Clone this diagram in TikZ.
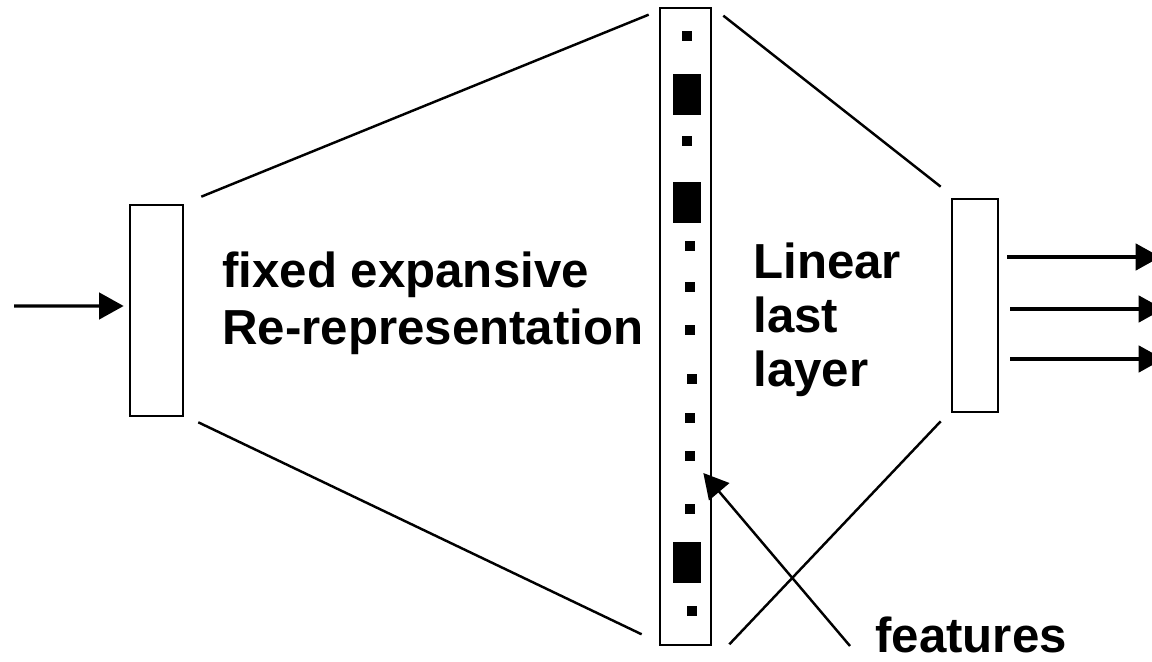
\documentclass[tikz,border=0pt]{standalone}
\usepackage{fontspec}
\setmainfont{Liberation Sans}
\usetikzlibrary{arrows.meta}

\begin{document}
\begin{tikzpicture}[
	box/.style={draw, line width=1.5pt, inner sep=0pt},
	wire/.style={line width=1.4pt},
	arr/.style={line width=1.9pt, -{Triangle[length=14pt,width=15pt]}},
	lbl/.style={font=\bfseries\fontsize{28}{32}\selectfont, align=left, inner sep=0pt}
	]
	\useasboundingbox (0,0) rectangle (23.04,13.22);
	
	\node[box, minimum width=1.06cm, minimum height=4.22cm] (inbox) at (3.13,7.01) {};
	\node[box, minimum width=1.02cm, minimum height=12.74cm] (layer) at (13.71,6.69) {};
	\node[box, minimum width=0.92cm, minimum height=4.26cm] (outbox) at (19.5,7.11) {};
	
	% units of the wide layer
	\foreach \x/\y in {13.74/12.5, 13.74/10.4, 13.8/8.3, 13.8/7.48, 13.8/6.62, 13.84/5.64, 13.8/4.86, 13.8/4.1, 13.8/3.04, 13.84/1.0}
		\fill (\x-0.1,\y-0.1) rectangle ++(0.2,0.2);
	\foreach \y in {11.33, 9.17, 1.98}
		\fill (13.46,\y-0.41) rectangle ++(0.56,0.82);
	
	\node[lbl, font=\bfseries\fontsize{28}{33}\selectfont, anchor=north west] (expand) at (4.44,8.2) {fixed expansive\\Re-representation};
	\node[lbl, font=\bfseries\fontsize{28}{31}\selectfont, anchor=north west] (linear) at (15.06,8.38) {Linear\\last\\layer};
	\node[lbl, anchor=base west] (feat) at (17.5,0.17) {features};
	
	\draw[wire] ([shift={(0.34,0.14)}]inbox.north east) -- ([shift={(-0.2,-0.16)}]layer.north west);
	\draw[wire] ([shift={(0.28,-0.1)}]inbox.south east) -- ([shift={(-0.34,0.24)}]layer.south west);
	\draw[wire] ([shift={(0.22,-0.18)}]layer.north east) -- ([shift={(-0.2,0.22)}]outbox.north west);
	\draw[wire] ([shift={(0.34,0.04)}]layer.south east) -- ([shift={(-0.2,-0.16)}]outbox.south west);
	
	\coordinate (src) at (0.28,7.1);
	\draw[arr] (src) -- ([shift={(-0.1,0.09)}]inbox.west);
	\foreach \dx/\dy in {0.16/0.97, 0.22/-0.07, 0.22/-1.07}
		\draw[arr] ([shift={(\dx,\dy)}]outbox.east) -- ++(3.06,0);
	\draw[arr, line width=1.4pt] ([shift={(-0.5,0.13)}]feat.base west) -- ([shift={(-0.18,-2.93)}]layer.east);
\end{tikzpicture}
\end{document}
